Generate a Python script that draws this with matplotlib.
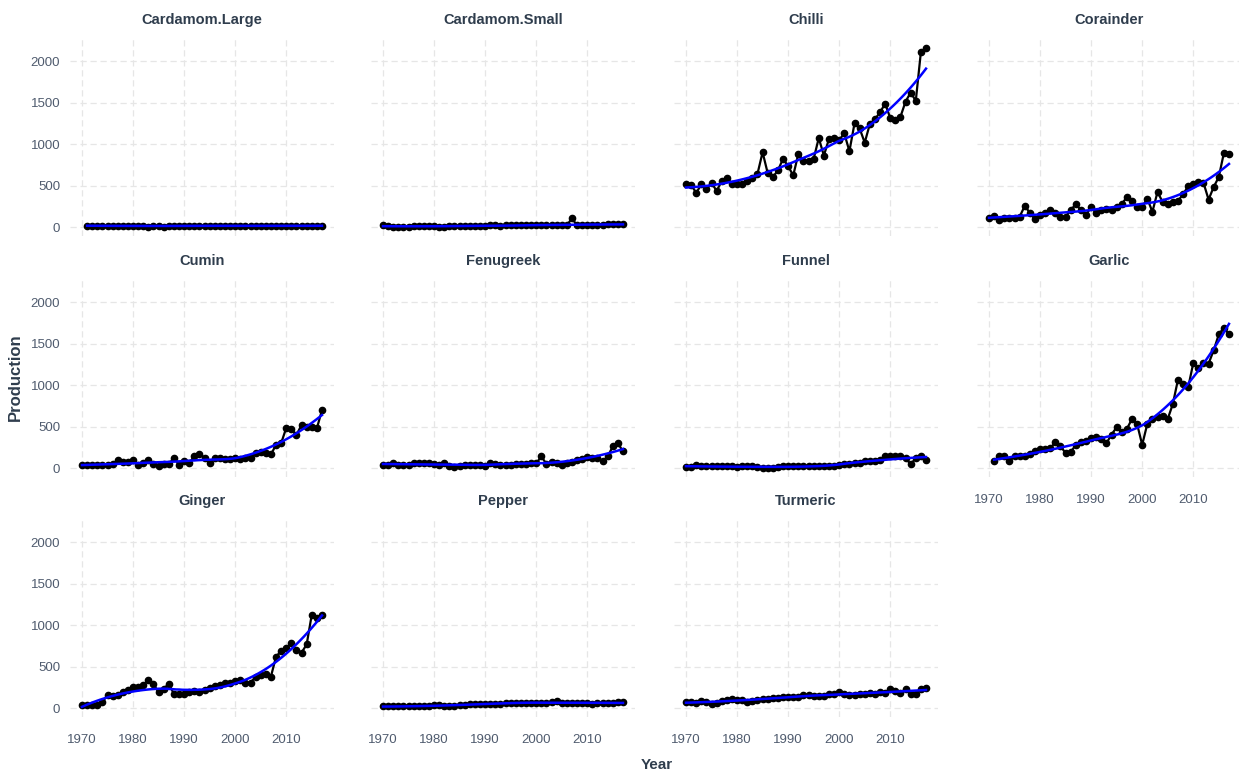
import numpy as np
import matplotlib.pyplot as plt

plt.rcParams['font.family'] = ['Liberation Sans', 'DejaVu Sans']

nan = np.nan
years = list(range(1970, 2018))

# production values, 1970-2017
cardamom_large = [nan, 15, 15, 15, 15, 15, 15, 15, 15, 15,
                  15, 15, 14, 2, 15, 15, 3, 15, 15, 15,
                  15, 15, 15, 15, 15, 15, 15, 15, 15, 8,
                  15, 15, 15, 15, 15, 15, 15, 15, 15, 15,
                  15, 15, 15, 15, 15, 15, 15, 15]
cardamom_small = [20, 15, 5, 0, 0, 5, 10, 15, 15, 15,
                  10, 5, 5, 10, 10, 15, 15, 10, 10, 15,
                  15, 20, 20, 15, 20, 20, 20, 20, 20, 20,
                  20, 20, 20, 20, 20, 20, 20, 105, 20, 20,
                  20, 20, 20, 20, 35, 35, 35, 35]
chilli = [523, 511, 411, 515, 455, 535, 435, 555, 590, 523,
          523, 523, 555, 590, 642, 902, 650, 602, 683, 822,
          735, 622, 882, 802, 802, 822, 1074, 862, 1062, 1074,
          1050, 1130, 914, 1250, 1190, 1018, 1242, 1302, 1382, 1490,
          1314, 1290, 1330, 1514, 1622, 1522, 2112, 2160]
corainder = [112, 136, 84, 112, 112, 112, 124, 255, 172, 92,
             144, 164, 204, 172, 124, 124, 204, 275, 204, 144,
             244, 164, 204, 216, 204, 244, 275, 363, 311, 244,
             244, 343, 184, 423, 303, 275, 303, 315, 395, 491,
             515, 543, 535, 331, 483, 603, 894, 882]
cumin = [32, 32, 32, 32, 40, 32, 52, 92, 72, 72,
         92, 40, 64, 92, 52, 20, 44, 44, 124, 40,
         80, 64, 140, 172, 124, 64, 124, 124, 104, 104,
         124, 104, 124, 124, 180, 192, 180, 164, 280, 300,
         484, 472, 400, 520, 492, 500, 480, 700]
fenugreek = [40, 40, 55, 40, 40, 40, 55, 65, 55, 65,
             50, 40, 65, 20, 15, 30, 40, 40, 40, 40,
             30, 65, 50, 40, 40, 40, 50, 50, 50, 55,
             55, 140, 50, 75, 60, 40, 60, 70, 100, 110,
             130, 120, 120, 80, 140, 260, 300, 200]
funnel = [12, 12, 35, 20, 20, 20, 20, 25, 20, 20,
          15, 20, 20, 25, 15, 5, 0, 5, 15, 20,
          20, 25, 20, 20, 20, 25, 25, 30, 25, 20,
          35, 50, 45, 60, 65, 80, 90, 90, 95, 150,
          150, 150, 150, 120, 45, 120, 150, 100]
garlic = [nan, 84, 140, 140, 84, 140, 140, 140, 164, 204,
          224, 224, 240, 312, 264, 180, 192, 280, 312, 332,
          360, 372, 352, 300, 404, 492, 440, 472, 592, 532,
          280, 532, 592, 612, 624, 592, 772, 1064, 1012, 972,
          1264, 1212, 1264, 1260, 1420, 1612, 1692, 1612]
ginger = [40, 32, 40, 32, 76, 156, 140, 156, 196, 220,
          248, 248, 280, 336, 288, 188, 228, 296, 168, 168,
          168, 196, 208, 196, 220, 240, 268, 280, 300, 308,
          328, 336, 308, 308, 376, 400, 408, 380, 620, 688,
          728, 780, 696, 668, 768, 1128, 1088, 1128]
pepper = [20, 20, 20, 20, 20, 20, 20, 20, 20, 20,
          35, 35, 25, 25, 25, 35, 35, 50, 50, 50,
          50, 50, 50, 50, 65, 65, 55, 60, 65, 55,
          65, 65, 65, 75, 85, 60, 60, 60, 60, 55,
          55, 45, 55, 60, 65, 65, 70, 70]
turmeric = [75, 75, 55, 80, 75, 50, 55, 80, 100, 110,
            100, 95, 75, 90, 100, 110, 115, 120, 125, 130,
            130, 130, 130, 160, 155, 145, 140, 145, 165, 175,
            190, 170, 155, 160, 170, 175, 180, 175, 190, 185,
            230, 205, 185, 230, 175, 170, 225, 245]

crops = ['Cardamom.Large', 'Cardamom.Small', 'Chilli', 'Corainder',
         'Cumin', 'Fenugreek', 'Funnel', 'Garlic',
         'Ginger', 'Pepper', 'Turmeric']
series = [cardamom_large, cardamom_small, chilli, corainder,
          cumin, fenugreek, funnel, garlic,
          ginger, pepper, turmeric]


def loess(x, y, span=0.75, n_out=80):
    # local quadratic fit with tricube weights, like R's loess default
    x = np.asarray(x, float)
    y = np.asarray(y, float)
    ok = ~np.isnan(y)
    x, y = x[ok], y[ok]
    n = len(x)
    q = int(np.floor(n * span))
    xs = np.linspace(x.min(), x.max(), n_out)
    fit = []
    for x0 in xs:
        d = np.abs(x - x0)
        h = np.sort(d)[q - 1]
        w = np.clip(1 - (d / h) ** 3, 0, None) ** 3
        A = np.column_stack([np.ones(n), x - x0, (x - x0) ** 2])
        sw = np.sqrt(w)
        coef = np.linalg.lstsq(A * sw[:, None], y * sw, rcond=None)[0]
        fit.append(coef[0])
    return xs, np.array(fit)


W, H = 1239, 773
fig = plt.figure(figsize=(W / 100, H / 100), dpi=100)

col_left = [70, 371, 674, 977]
row_top = [39, 280, 520]
pw, ph = 264, 197

allv = np.array([v for s in series for v in s], float)
lo, hi = np.nanmin(allv), np.nanmax(allv)
ypad = 0.05 * (hi - lo)
xpad = 0.05 * (years[-1] - years[0])

tick_col = '#4f5b6e'
title_col = '#2f3d4d'
grid_col = '#e6e6e6'

for i, (name, vals) in enumerate(zip(crops, series)):
    r, c = divmod(i, 4)
    ax = fig.add_axes([col_left[c] / W, 1 - (row_top[r] + ph) / H, pw / W, ph / H])
    ax.set_xlim(years[0] - xpad, years[-1] + xpad)
    ax.set_ylim(lo - ypad, hi + ypad)
    ax.set_xticks([1970, 1980, 1990, 2000, 2010])
    ax.set_yticks([0, 500, 1000, 1500, 2000])
    ax.grid(True, color=grid_col, lw=0.9, linestyle=(0, (5, 3)))
    ax.set_axisbelow(True)
    for sp in ax.spines.values():
        sp.set_visible(False)
    ax.tick_params(length=0, labelsize=9.5, labelcolor=tick_col)
    ax.tick_params(axis='x', pad=12)
    ax.tick_params(axis='y', pad=7)

    bottom_of_col = (i + 4) >= len(crops)
    if not bottom_of_col:
        ax.tick_params(axis='x', labelbottom=False)
    if c != 0:
        ax.tick_params(axis='y', labelleft=False)

    ax.plot(years, vals, color='black', lw=1.6, zorder=3)
    ax.plot(years, vals, 'o', color='black', ms=4.5, zorder=3)
    sx, sy = loess(years, vals)
    ax.plot(sx, sy, color='#0000ff', lw=1.8, zorder=4)

    ax.set_title(name, fontsize=10.5, fontweight='bold', color=title_col, pad=11)

fig.text(657 / W, 1 - 765 / H, 'Year', ha='center', va='center',
         fontsize=11, fontweight='bold', color=title_col)
fig.text(15 / W, 1 - 377 / H, 'Production', ha='center', va='center',
         rotation=90, fontsize=12, fontweight='bold', color=title_col)

fig.savefig('out.png', dpi=100)
